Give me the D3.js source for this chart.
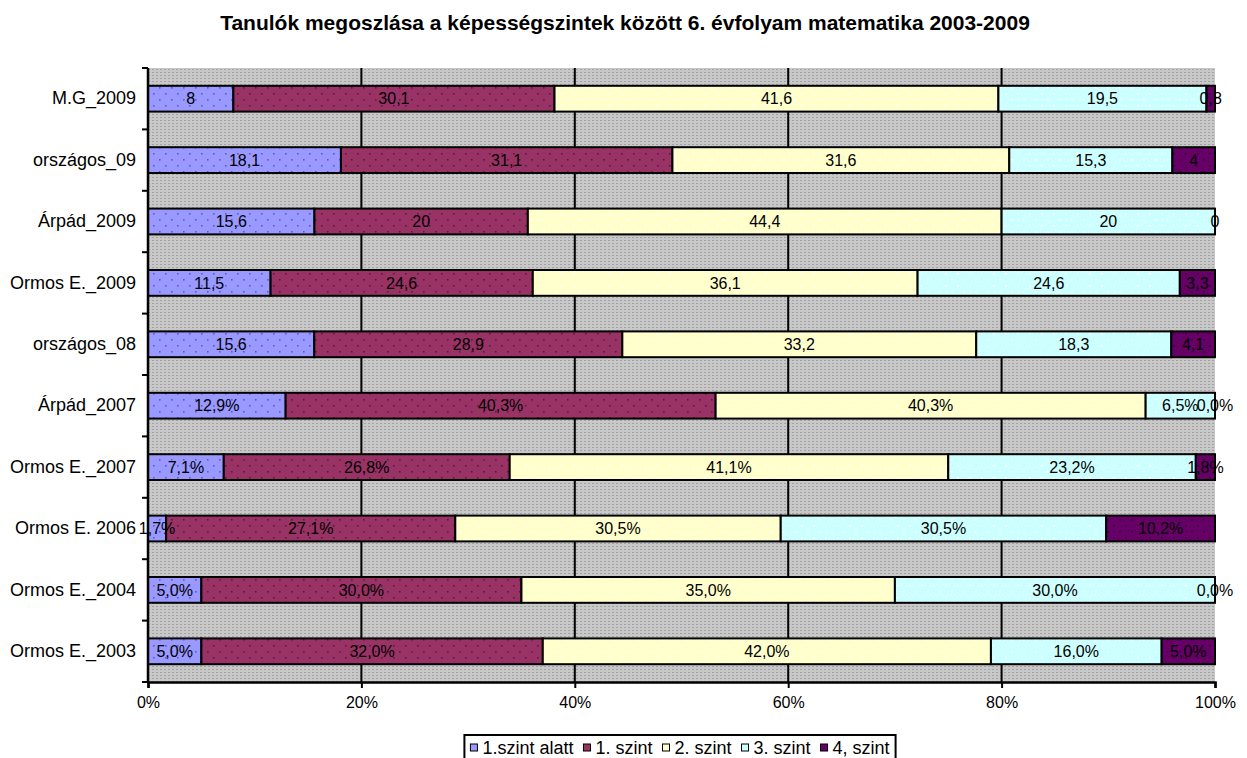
<!DOCTYPE html>
<html><head><meta charset="utf-8">
<script src="https://cdn.jsdelivr.net/npm/d3@7"></script>
<style>body{margin:0;background:#fff} svg{display:block}</style>
</head><body>
<svg id="chart" width="1247" height="758"></svg>
<script>
const title = "Tanulók megoszlása a képességszintek között 6. évfolyam matematika 2003-2009";
const categories = ["M.G_2009","országos_09","Árpád_2009","Ormos E._2009","országos_08","Árpád_2007","Ormos E._2007","Ormos E. 2006","Ormos E._2004","Ormos E._2003"];
const seriesNames = ["1.szint alatt","1. szint","2. szint","3. szint","4, szint"];
const below1 = [8, 18.1, 15.6, 11.5, 15.6, 12.9, 7.1, 1.7, 5.0, 5.0];
const level1 = [30.1, 31.1, 20, 24.6, 28.9, 40.3, 26.8, 27.1, 30.0, 32.0];
const level2 = [41.6, 31.6, 44.4, 36.1, 33.2, 40.3, 41.1, 30.5, 35.0, 42.0];
const level3 = [19.5, 15.3, 20, 24.6, 18.3, 6.5, 23.2, 30.5, 30.0, 16.0];
const level4 = [0.8, 4, 0, 3.3, 4.1, 0.0, 1.8, 10.2, 0.0, 5.0];
const labelStyle = ["plain","plain","plain","plain","plain","pct","pct","pct","pct","pct"];
const xTicks = [0, 0.2, 0.4, 0.6, 0.8, 1];
const xTickLabels = ["0%","20%","40%","60%","80%","100%"];
const colors = ["#9999FF","#993366","#FFFFCC","#CCFFFF","#660066"];
const dotColors = ["#5a5ad8","#5e1a3e","#ffffff","#ffffff","#3a003a"];

const seriesValues = [below1, level1, level2, level3, level4];
const rows = categories.map((c, i) => {
  const r = {cat: c, style: labelStyle[i]};
  seriesNames.forEach((s, k) => r[s] = seriesValues[k][i]);
  return r;
});

const svg = d3.select("#chart");
const FONT = "'Liberation Sans', Arial, sans-serif";
const m = {left: 148, right: 1215, top: 68, bottom: 682};

const x = d3.scaleLinear().domain([0, 1]).range([m.left, m.right]);
const y = d3.scaleBand().domain(categories).range([m.top, m.bottom]).paddingInner(0.58).paddingOuter(0.29);

const stack = d3.stack().keys(seriesNames).offset(d3.stackOffsetExpand);
const stacked = stack(rows);

// patterns
const defs = svg.append("defs");
const bg = defs.append("pattern").attr("id","bgpat").attr("patternUnits","userSpaceOnUse").attr("width",4).attr("height",3);
bg.append("rect").attr("width",4).attr("height",3).attr("fill","#c8c8c8");
bg.append("rect").attr("x",0).attr("y",0).attr("width",2).attr("height",1).attr("fill","#a2a2a2");
seriesNames.forEach((s, k) => {
  const p = defs.append("pattern").attr("id","pat"+k).attr("patternUnits","userSpaceOnUse").attr("width",12).attr("height",12);
  p.append("rect").attr("width",12).attr("height",12).attr("fill",colors[k]);
  p.append("rect").attr("x",3).attr("y",3).attr("width",1.6).attr("height",1.6).attr("fill",dotColors[k]);
  p.append("rect").attr("x",9).attr("y",9).attr("width",1.6).attr("height",1.6).attr("fill",dotColors[k]);
});

// plot background
svg.append("rect").attr("x", m.left).attr("y", m.top).attr("width", m.right - m.left).attr("height", m.bottom - m.top).attr("fill", "url(#bgpat)");

// gridlines
svg.append("g").selectAll("line").data(xTicks.slice(1, -1)).join("line")
  .attr("x1", d => x(d)).attr("x2", d => x(d)).attr("y1", m.top).attr("y2", m.bottom)
  .attr("stroke", "#000").attr("stroke-width", 2);

// bars
const layer = svg.append("g").selectAll("g").data(stacked).join("g")
  .attr("fill", (d, k) => "url(#pat" + k + ")");
layer.selectAll("rect").data(d => d.map(v => ({v, key: d.key}))).join("rect")
  .attr("x", d => x(d.v[0])).attr("width", d => x(d.v[1]) - x(d.v[0]))
  .attr("y", d => y(d.v.data.cat)).attr("height", y.bandwidth())
  .attr("stroke", "#000").attr("stroke-width", 2);

// bar labels
function fmt(v, style) {
  if (style === "pct") return v.toFixed(1).replace(".", ",") + "%";
  return String(v).replace(".", ",");
}
const lab = svg.append("g").attr("font-family", FONT).attr("font-size", 16).attr("fill", "#000").attr("text-anchor", "middle");
stacked.forEach(s => {
  s.forEach(v => {
    lab.append("text")
      .attr("x", (x(v[0]) + x(v[1])) / 2)
      .attr("y", y(v.data.cat) + y.bandwidth() / 2)
      .attr("dy", "0.36em")
      .text(fmt(v.data[s.key], v.data.style));
  });
});

// x axis
const xAxis = d3.axisBottom(x).tickValues(xTicks).tickFormat((d, i) => xTickLabels[i]).tickSize(6).tickPadding(9);
const gx = svg.append("g").attr("transform", `translate(0,${m.bottom})`).call(xAxis);
gx.select(".domain").attr("stroke-width", 2.5);
gx.selectAll(".tick line").attr("stroke-width", 2);
gx.selectAll("text").attr("font-family", FONT).attr("font-size", 16).attr("fill", "#000");

// y axis labels
const yAxis = d3.axisLeft(y).tickSize(0).tickPadding(12);
const gy = svg.append("g").attr("transform", `translate(${m.left},0)`).call(yAxis);
gy.select(".domain").remove();
gy.selectAll("text").attr("font-family", FONT).attr("font-size", 18).attr("fill", "#000");
// y axis line & boundary ticks
const bounds = categories.map(c => y(c) - y.step() * y.paddingInner() / 2);
bounds.push(m.bottom);
svg.append("line").attr("x1", m.left).attr("x2", m.left).attr("y1", m.top).attr("y2", m.bottom).attr("stroke", "#000").attr("stroke-width", 2.5);
svg.append("g").selectAll("line").data(bounds).join("line")
  .attr("x1", m.left - 6).attr("x2", m.left).attr("y1", d => d).attr("y2", d => d)
  .attr("stroke", "#000").attr("stroke-width", 2);

// title
svg.append("text").attr("x", 625).attr("y", 30).attr("text-anchor", "middle")
  .attr("font-family", FONT).attr("font-weight", "bold").attr("font-size", 21).text(title);

// legend
const legendBox = svg.append("rect");
const lg = svg.append("g").attr("font-family", FONT).attr("font-size", 18);
const legendY = 748;
let cx = 0;
seriesNames.forEach((s, k) => {
  const g = lg.append("g");
  g.append("rect").attr("x", cx).attr("y", legendY - 4).attr("width", 7).attr("height", 7)
    .attr("fill", colors[k]).attr("stroke", "#000").attr("stroke-width", 1);
  const t = g.append("text").attr("x", cx + 12).attr("y", legendY).attr("dy", "0.36em").text(s);
  cx += 12 + t.node().getComputedTextLength() + (k < seriesNames.length - 1 ? 10 : 0);
});
const lw = cx + 12;
const lx = 680 - lw / 2;
lg.attr("transform", `translate(${lx + 6},0)`);
legendBox.attr("x", lx).attr("y", 735).attr("width", lw).attr("height", 30)
  .attr("fill", "#fff").attr("stroke", "#000").attr("stroke-width", 2);
</script>
</body></html>
